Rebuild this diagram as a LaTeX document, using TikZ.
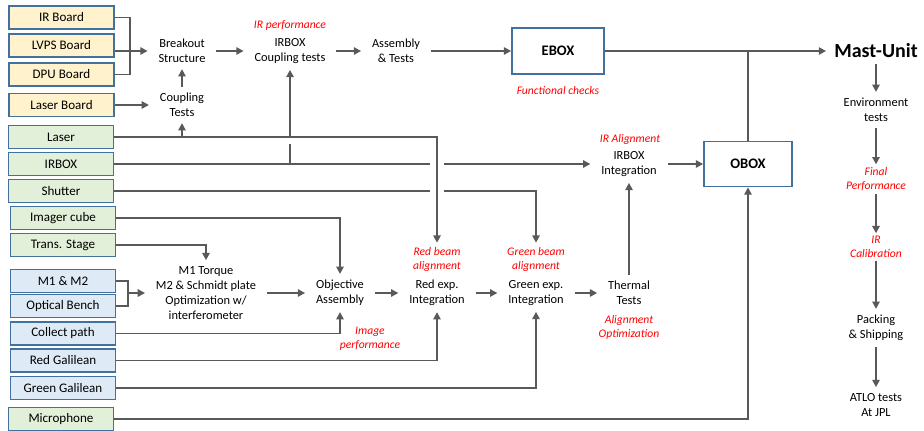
\documentclass[tikz,border=0pt]{standalone}
\usepackage{fontspec}
\setmainfont{Carlito}
\usetikzlibrary{arrows.meta}

\definecolor{boxline}{HTML}{41719C}
\definecolor{boardfill}{HTML}{FFF2CC}
\definecolor{partfill}{HTML}{E2F0D9}
\definecolor{opticfill}{HTML}{DEEBF7}
\definecolor{linegray}{HTML}{595959}

\begin{document}
\begin{tikzpicture}[
  x=0.75pt, y=-0.75pt,
  item/.style={draw=boxline, line width=1.1pt, minimum width=78.75pt, minimum height=17.25pt, inner sep=0pt, font=\fontsize{9.8}{11}\selectfont},
  board/.style={item, fill=boardfill},
  part/.style={item, fill=partfill},
  optic/.style={item, fill=opticfill},
  stage/.style={align=center, inner xsep=8pt, inner ysep=4.5pt, font=\fontsize{9.3}{11.25}\selectfont},
  unit/.style={draw=boxline, line width=1.3pt, fill=white, font=\fontsize{10.9}{12}\selectfont\bfseries},
  note/.style={align=center, text=red, inner sep=3pt, font=\fontsize{8.7}{10.5}\selectfont\itshape},
  wire/.style={draw=linegray, line width=1.4pt},
  arrow/.style={wire, -{Triangle[length=5.5pt, width=5.5pt]}},
]
\useasboundingbox (0, 0) rectangle (924, 431);

% Electronic boards (yellow), parts (green) and optics (blue) down the left side.
\foreach \n/\t/\y in {irb/IR Board/17.5, lvps/LVPS Board/45.5, dpu/DPU Board/74.5, lasb/Laser Board/105}
  \node[board] (\n) at (61.5, \y) {\t};
\foreach \n/\t/\y in {laser/Laser/137, irbox/IRBOX/164, shut/Shutter/191, mic/Microphone/419}
  \node[part] (\n) at (61, \y) {\t};
\foreach \n/\t/\y in {imgc/Imager cube/218, trans/Trans. Stage/245}
  \node[part] (\n) at (63, \y) {\t};
\foreach \n/\t/\y in {m12/M1 \& M2/281, bench/Optical Bench/306, coll/Collect path/333.5, redg/Red Galilean/360.5, grng/Green Galilean/388}
  \node[optic] (\n) at (63, \y) {\t};

% Upper chain: electronics up to EBOX and the Mast-Unit.
\node[stage] (brk) at (182, 51) {Breakout\\Structure};
\node[stage] (coup) at (182, 105) {Coupling\\Tests};
\node[stage] (irbct) at (290, 51) {IRBOX\\Coupling tests};
\node[stage] (asm) at (396, 51) {Assembly\\\& Tests};
\node[unit, minimum width=69pt, minimum height=34.5pt] (ebox) at (558, 51) {EBOX};
\node[stage, inner xsep=6pt, font=\fontsize{15}{18}\selectfont\bfseries] (mast) at (876, 51) {Mast-Unit};

% Lower chain: optics up to OBOX.
\node[stage] (torque) at (206, 293) {M1 Torque\\M2 \& Schmidt plate\\Optimization w/\\interferometer};
\node[stage] (obj) at (340, 293) {Objective\\Assembly};
\node[stage] (redx) at (437, 293) {Red exp.\\Integration};
\node[stage] (grnx) at (536, 293) {Green exp.\\Integration};
\node[stage] (therm) at (629, 293) {Thermal\\Tests};
\node[stage] (irbint) at (629, 164) {IRBOX\\Integration};
\node[unit, minimum width=66pt, minimum height=33.75pt] (obox) at (748, 164) {OBOX};

% Mast-Unit test column.
\node[stage] (env) at (876, 110) {Environment\\tests};
\node[note, inner sep=2pt] (fin) at (876, 179) {Final\\Performance};
\node[note, inner sep=2pt] (ircal) at (876, 247) {IR\\Calibration};
\node[stage] (pack) at (876, 328) {Packing\\\& Shipping};
\node[stage] (atlo) at (876, 405) {ATLO tests\\At JPL};

% Red notes.
\node[note] (lblirp) at (290, 25) {IR performance};
\node[note] (lblfunc) at (558, 91) {Functional checks};
\node[note] (lblira) at (630, 139) {IR Alignment};
\node[note] (lblred) at (437, 259) {Red beam\\alignment};
\node[note] (lblgrn) at (536, 259) {Green beam\\alignment};
\node[note] (lblimg) at (370, 339) {Image\\performance};
\node[note] (lblopt) at (629, 327) {Alignment\\Optimization};

% Boards into the breakout structure.
\coordinate (bjoin) at (130, 51);
\draw[wire] (irb.east) -| (bjoin) |- (dpu.east);
\draw[arrow] (lvps.east |- bjoin) -- (brk.west);
\draw[arrow] (lasb.east) -- (coup.west);
\draw[arrow] (coup.north) -- (brk.south);
\draw[arrow] (brk.east) -- (irbct.west);
\draw[arrow] (irbct.east) -- (asm.west);
\draw[arrow] (asm.east) -- (ebox.west);
\draw[arrow] (ebox.east) -- (mast.west);
\draw[wire] (obox.north) -- (obox.north |- ebox.east);

% Laser and IRBOX feeds.
\draw[arrow] (laser.east -| coup.south) -- (coup.south);
\draw[arrow] (laser.east -| irbct.south) -- (irbct.south);
\draw[wire] (irbox.east -| irbct.south) -- ([yshift=-5pt]laser.east -| irbct.south);
\draw[arrow] (laser.east) -| (lblred.north);
\draw[wire] (irbox.east) -- ([xshift=-5pt]irbox.east -| lblred.north);
\draw[arrow] ([xshift=5pt]irbox.east -| lblred.north) -- (irbint.west);
\draw[wire] (shut.east) -- ([xshift=-5pt]shut.east -| lblred.north);
\draw[arrow] ([xshift=5pt]shut.east -| lblred.north) -| (lblgrn.north);

% Optics feeds.
\draw[arrow] (imgc.east) -| (obj.north);
\draw[arrow] (trans.east) -| (torque.north);
\coordinate (mjoin) at (128, 293);
\draw[wire] (m12.east) -| (mjoin) |- (bench.east);
\draw[arrow] (mjoin) -- (torque.west);
\draw[arrow] (coll.east) -| (obj.south);
\draw[arrow] (redg.east) -| (redx.south);
\draw[arrow] (grng.east) -| (grnx.south);
\draw[arrow] (mic.east) -| (obox.south);

% Integration chain.
\draw[arrow] (torque.east) -- (obj.west);
\draw[arrow] (obj.east) -- (redx.west);
\draw[arrow] (redx.east) -- (grnx.west);
\draw[arrow] (grnx.east) -- (therm.west);
\draw[arrow] (therm.north) -- (irbint.south);
\draw[arrow] (irbint.east) -- (obox.west);

% Mast-Unit column.
\draw[arrow] (mast.south) -- (env.north);
\draw[arrow] (env.south) -- (fin.north);
\draw[arrow] (fin.south) -- (ircal.north);
\draw[arrow] (ircal.south) -- (pack.north);
\draw[arrow] (pack.south) -- (atlo.north);

\end{tikzpicture}
\end{document}
